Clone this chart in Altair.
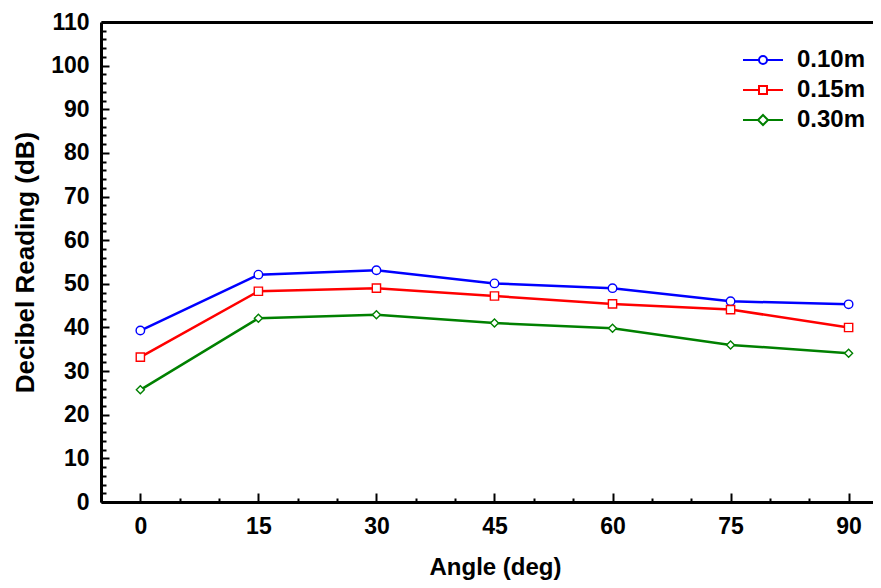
import altair as alt
import pandas as pd

angles = [0, 15, 30, 45, 60, 75, 90]
series_names = ["0.10m", "0.15m", "0.30m"]
vals_010 = [39.3, 52.1, 53.1, 50.1, 49.0, 46.0, 45.3]
vals_015 = [33.2, 48.3, 49.0, 47.2, 45.4, 44.1, 40.0]
vals_030 = [25.7, 42.1, 42.9, 41.0, 39.8, 36.0, 34.1]
colors = ["#0000FF", "#FF0000", "#008000"]
shapes = ["circle", "square", "diamond"]
marker_sizes = [72, 64, 110]
legend_paths = [
    "M-4,0H-0.8M0.8,0H4M0.8,0A0.8,0.8,0,1,1,-0.8,0A0.8,0.8,0,1,1,0.8,0Z",
    "M-4,0H-0.8M0.8,0H4M-0.8,-0.8H0.8V0.8H-0.8Z",
    "M-4,0H-1M1,0H4M0,-1L1,0L0,1L-1,0Z",
]
x_major = [0, 15, 30, 45, 60, 75, 90]
x_minor = [-5, 5, 10, 20, 25, 35, 40, 50, 55, 65, 70, 80, 85]
y_major = list(range(0, 111, 10))
y_minor = [v for v in range(0, 111, 2) if v % 10 != 0]

rows = []
for name, vals in zip(series_names, [vals_010, vals_015, vals_030]):
    for a, v in zip(angles, vals):
        rows.append({"angle": a, "db": v, "series": name})
df = pd.DataFrame(rows)

X_DOM = [-5, 93.1]
Y_DOM = [0, 110]
FONT = "Liberation Sans"


def xs():
    return alt.Scale(domain=X_DOM, nice=False, zero=False)


def ys():
    return alt.Scale(domain=Y_DOM, nice=False, zero=False)


color_main = alt.Color("series:N", scale=alt.Scale(domain=series_names, range=colors), legend=None)

lines = alt.Chart(df).mark_line(strokeWidth=2.5).encode(
    x=alt.X("angle:Q", scale=xs(), axis=alt.Axis(
        orient="bottom", values=x_major, ticks=False, tickSize=0, labelPadding=13,
        domain=True, domainWidth=3, domainColor="black", grid=False,
        title="Angle (deg)", titleFontSize=24, titleX=394, titleY=72,
        titleBaseline="alphabetic", titleAnchor="middle")),
    y=alt.Y("db:Q", scale=ys(), axis=alt.Axis(
        orient="left", values=y_major, ticks=False, tickSize=0, labelPadding=12,
        domain=True, domainWidth=3, domainColor="black", grid=False,
        title="Decibel Reading (dB)", titleFontSize=26, titleX=-68, titleY=240,
        titleBaseline="alphabetic", titleAnchor="middle")),
    color=color_main,
    detail="series:N",
)

points = alt.Chart(df).mark_point(filled=False, fill="white", fillOpacity=1, strokeWidth=1.4, opacity=1).encode(
    x=alt.X("angle:Q", scale=xs(), axis=alt.Axis(
        orient="bottom", values=x_major, labels=False, domain=False, grid=False,
        ticks=True, tickSize=9, tickWidth=2, tickColor="black", offset=-9, title=None)),
    y=alt.Y("db:Q", scale=ys(), axis=alt.Axis(
        orient="left", values=y_major, labels=False, domain=False, grid=False,
        ticks=True, tickSize=8, tickWidth=2, tickColor="black", offset=-8, title=None)),
    color=color_main,
    shape=alt.Shape("series:N", scale=alt.Scale(domain=series_names, range=shapes), legend=None),
    size=alt.Size("series:N", scale=alt.Scale(domain=series_names, range=marker_sizes), legend=None),
)

legend_cfg = dict(title=None, orient="none", legendX=650, legendY=26,
                  labelFontSize=24, labelFontWeight="bold", labelFont=FONT,
                  labelColor="black", labelOffset=22, rowPadding=6,
                  padding=0, symbolStrokeWidth=2, symbolSize=100,
                  symbolFillColor="white")

legend_layer = alt.Chart(df).transform_filter("false").mark_point(
    filled=False, strokeWidth=2, size=100, opacity=1).encode(
    x=alt.X("angle:Q", scale=xs(), axis=alt.Axis(
        orient="bottom", values=x_minor, labels=False, domain=False, grid=False,
        ticks=True, tickSize=4, tickWidth=2, tickColor="black", offset=-4, title=None)),
    y=alt.Y("db:Q", scale=ys(), axis=alt.Axis(
        orient="left", values=y_minor, labels=False, domain=False, grid=False,
        ticks=True, tickSize=5, tickWidth=2, tickColor="black", offset=-5, title=None)),
    color=alt.Color("series:N", scale=alt.Scale(domain=series_names, range=colors),
                    legend=alt.Legend(**legend_cfg)),
    shape=alt.Shape("series:N", scale=alt.Scale(domain=series_names, range=legend_paths),
                    legend=alt.Legend(**legend_cfg)),
)

top_layer = alt.Chart(df).transform_filter("false").mark_point().encode(
    x=alt.X("angle:Q", scale=xs(), axis=alt.Axis(
        orient="top", labels=False, ticks=False, grid=False, domain=True,
        domainWidth=3, domainColor="black", title=None)),
    y=alt.Y("db:Q", scale=ys(), axis=None),
)

chart = alt.layer(lines, points, legend_layer, top_layer).resolve_scale(
    x="independent", y="independent", color="independent", shape="independent", size="independent"
).resolve_axis(x="independent", y="independent").resolve_legend(
    color="independent", shape="independent", size="independent"
).properties(
    width=772, height=480,
    autosize=alt.AutoSizeParams(type="none"),
    padding={"left": 93, "top": 14, "right": 0, "bottom": 78},
).configure(font=FONT).configure_view(stroke=None).configure_axis(
    labelFont=FONT, labelFontSize=23, labelFontWeight="bold", labelColor="black",
    titleFont=FONT, titleFontWeight="bold", titleColor="black",
)

chart.save("out.html", embed_options={"renderer": "svg", "actions": False})
